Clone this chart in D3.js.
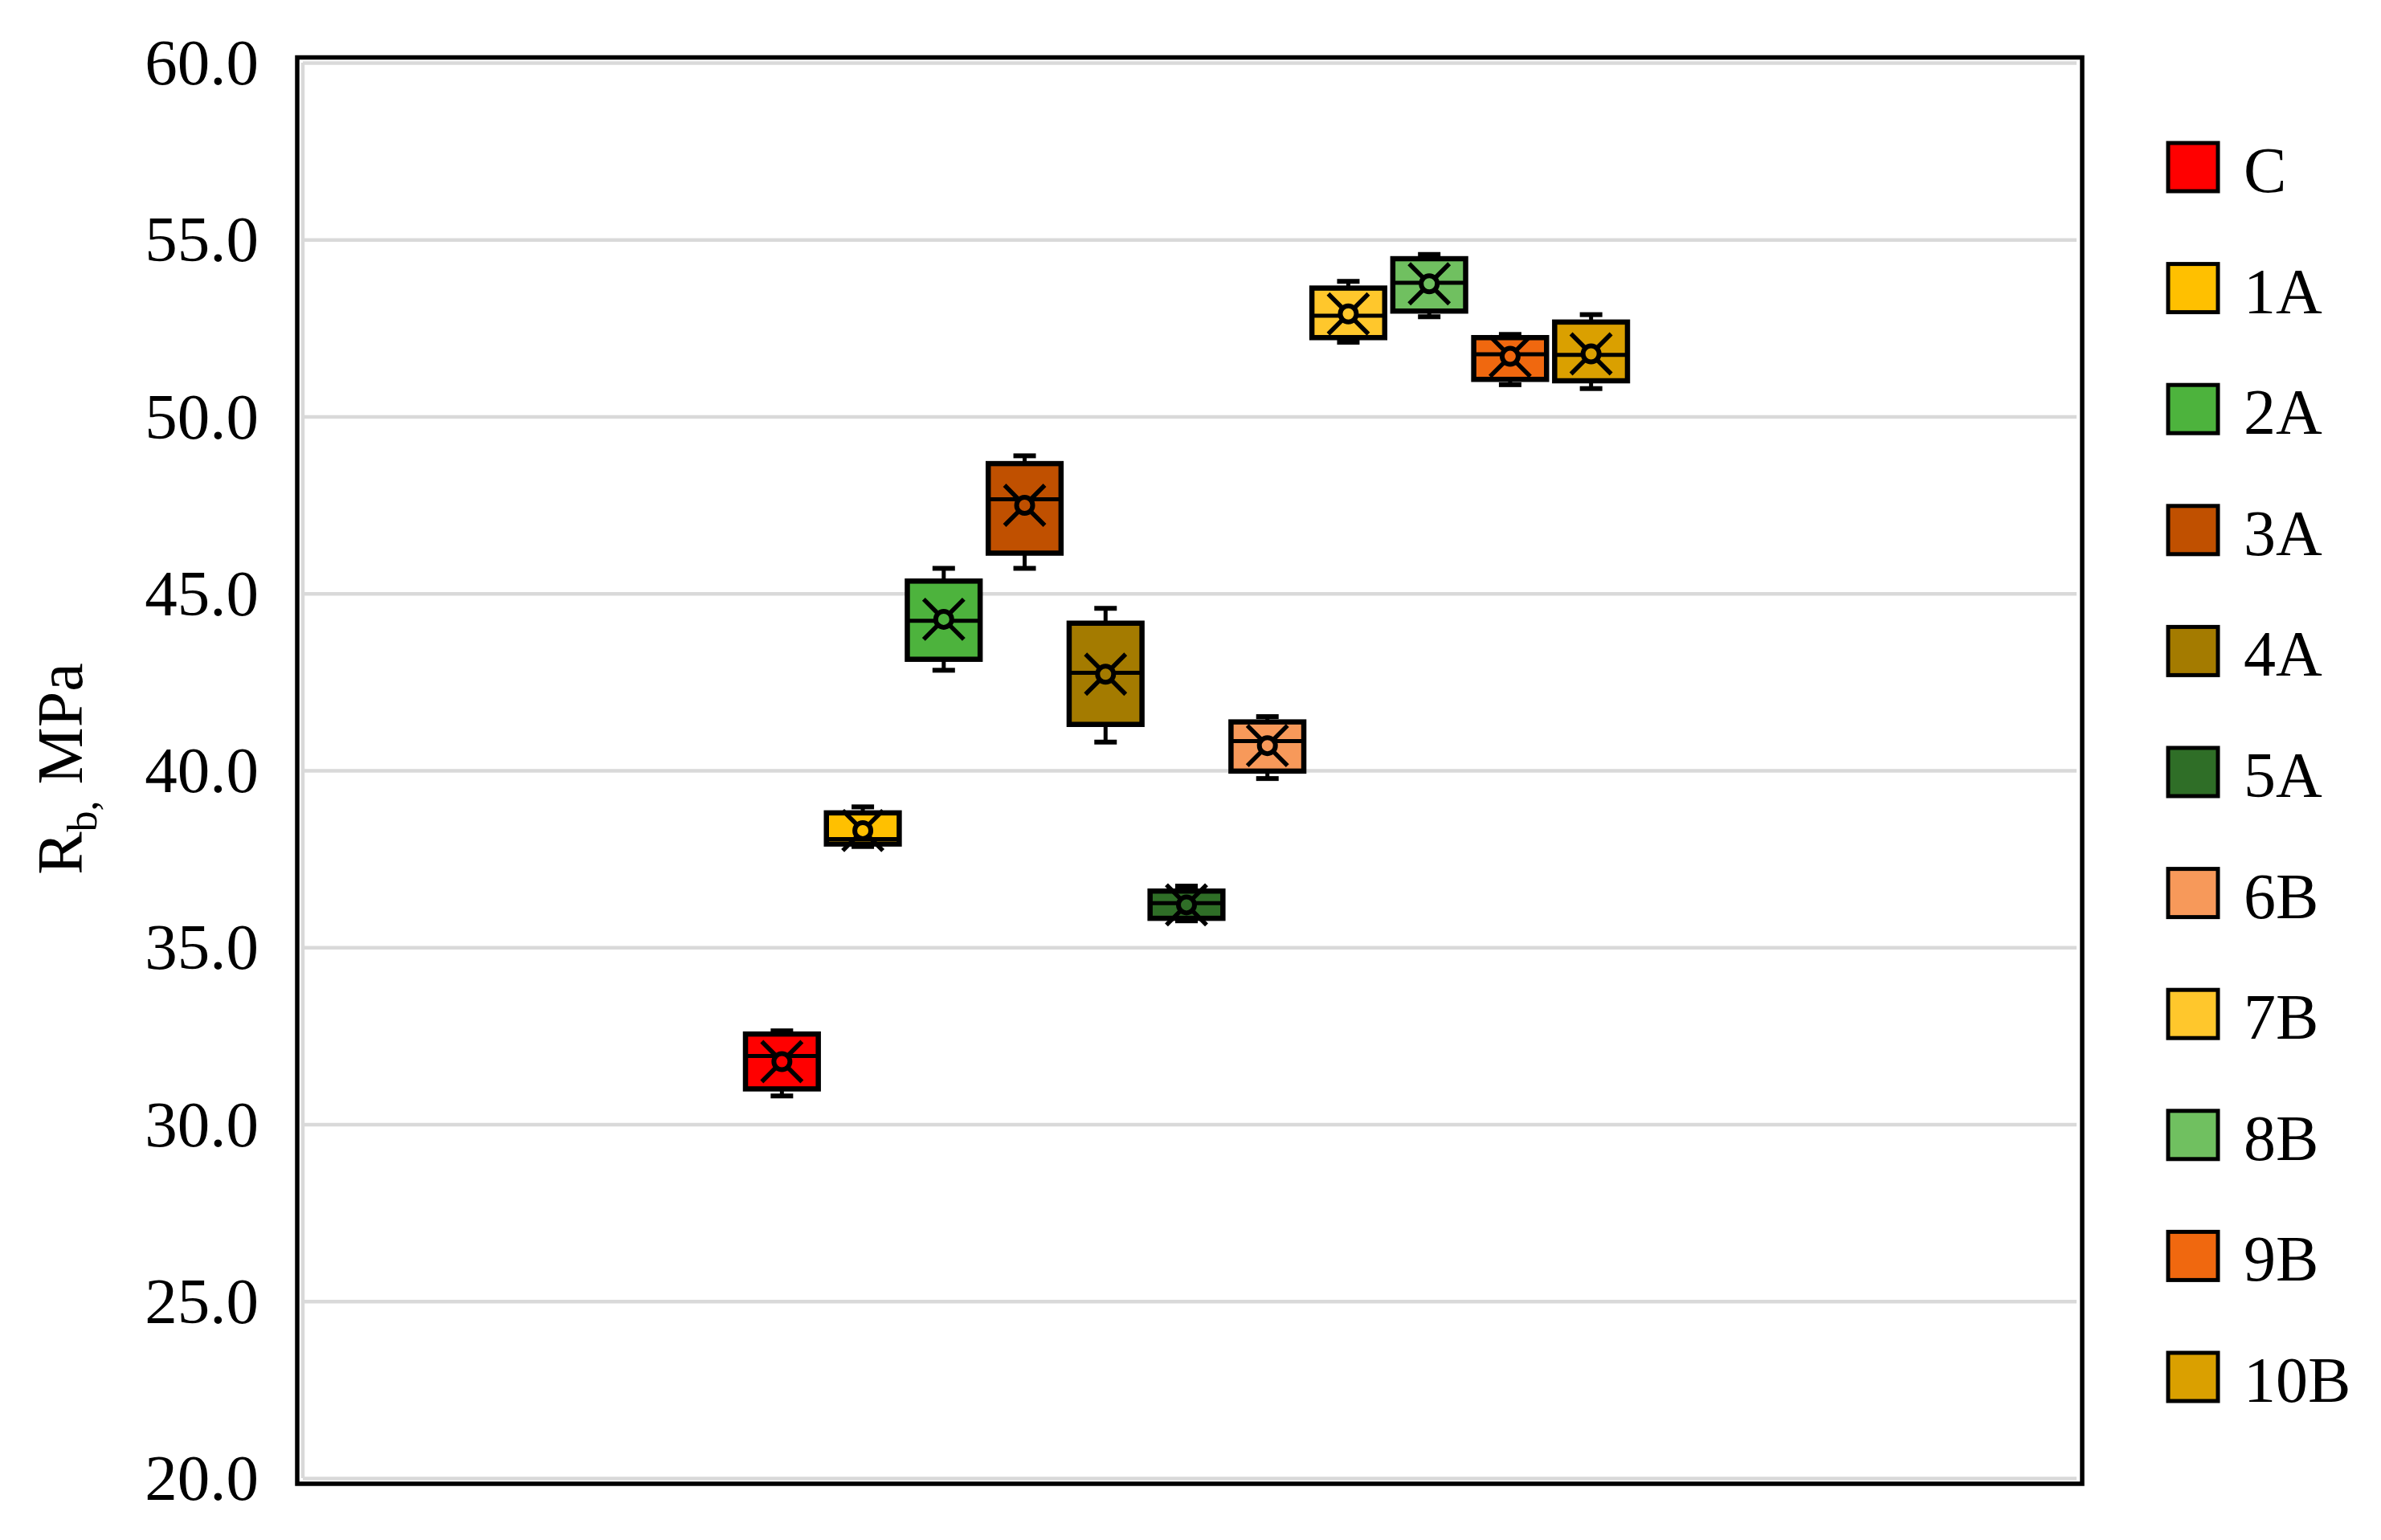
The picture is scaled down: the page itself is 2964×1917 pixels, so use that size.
<!DOCTYPE html>
<html>
<head>
<meta charset="utf-8">
<script src="https://cdn.jsdelivr.net/npm/d3@7"></script>
<style>
  body { margin: 0; background: #fff; }
  text { font-family: "Liberation Serif", "Times New Roman", serif; fill: #000; }
</style>
</head>
<body>
<svg id="chart" width="2964" height="1917"></svg>
<script>
// box plot summary per mix (MPa)
const series = ["C", "1A", "2A", "3A", "4A", "5A", "6B", "7B", "8B", "9B", "10B"];
const colors = ["#ff0000", "#ffc000", "#4db33d", "#c05000", "#a47b00", "#2f6e27",
                "#f7995a", "#ffc72c", "#70c060", "#f0680f", "#daa000"];
const whiskerLow  = [30.80, 37.85, 42.83, 45.71, 40.80, 35.75, 39.77, 52.10, 52.82, 50.90, 50.79];
const q1          = [31.00, 37.92, 43.14, 46.14, 41.30, 35.82, 39.98, 52.23, 52.98, 51.05, 51.01];
const median      = [31.93, 38.06, 44.23, 47.66, 42.76, 36.25, 40.83, 52.85, 53.78, 51.76, 51.74];
const q3          = [32.55, 38.80, 45.35, 48.67, 44.16, 36.59, 41.37, 53.63, 54.46, 52.23, 52.67];
const whiskerHigh = [32.64, 38.97, 45.71, 48.89, 44.58, 36.73, 41.52, 53.82, 54.58, 52.32, 52.88];
const mean        = [31.77, 38.30, 44.27, 47.49, 42.72, 36.20, 40.70, 52.90, 53.75, 51.70, 51.77];
const yTicks = [20, 25, 30, 35, 40, 45, 50, 55, 60];

const svg = d3.select("#chart");
const plot = { left: 377, right: 2585, top: 78, bottom: 1840 };

const y = d3.scaleLinear().domain([20, 60]).range([plot.bottom, plot.top]);
const xGroup = d3.scaleBand().domain(["all"]).range([plot.left, plot.right]).paddingOuter(0.5).paddingInner(0);
const x = d3.scaleBand().domain(series)
  .range([xGroup("all") - 4, xGroup("all") - 4 + xGroup.bandwidth()])
  .paddingInner(0.1).paddingOuter(0.03);

// outer frame
svg.append("rect")
  .attr("x", 370).attr("y", 71.5)
  .attr("width", 2222).attr("height", 1775.5)
  .attr("fill", "none").attr("stroke", "#000").attr("stroke-width", 5.5);

// gridlines
svg.append("g")
  .attr("transform", `translate(${plot.left},0)`)
  .call(d3.axisLeft(y).tickValues(yTicks).tickSize(-(plot.right - plot.left)).tickFormat(""))
  .call(g => g.select(".domain").remove())
  .call(g => g.selectAll("line").attr("stroke", "#d9d9d9").attr("stroke-width", 4.5));

svg.append("line")
  .attr("x1", plot.left).attr("x2", plot.left)
  .attr("y1", plot.top).attr("y2", plot.bottom)
  .attr("stroke", "#d9d9d9").attr("stroke-width", 4.5);

// tick labels
svg.append("g")
  .attr("transform", `translate(${plot.left},0)`)
  .call(d3.axisLeft(y).tickValues(yTicks).tickSize(0).tickPadding(55).tickFormat(d3.format(".1f")))
  .call(g => g.select(".domain").remove())
  .call(g => g.selectAll("text")
    .attr("font-size", 81)
    .attr("font-family", "Liberation Serif")
    .attr("fill", "#000")
    .attr("dy", "0.33em"));

// y axis title
const title = svg.append("text")
  .attr("transform", "translate(102,957) rotate(-90)")
  .attr("text-anchor", "middle")
  .attr("font-size", 80);
title.append("tspan").text("R");
title.append("tspan").attr("font-size", 52).attr("dy", 18).text("b,");
title.append("tspan").attr("dy", -18).text(" MPa");

// boxes
const boxW = x.bandwidth();
const boxes = svg.append("g").selectAll("g")
  .data(series)
  .join("g")
  .attr("transform", d => `translate(${x(d) + boxW / 2},0)`);

boxes.append("line")
  .attr("x1", 0).attr("x2", 0)
  .attr("y1", (d, i) => y(q3[i])).attr("y2", (d, i) => y(whiskerHigh[i]))
  .attr("stroke", "#000").attr("stroke-width", 5);
boxes.append("line")
  .attr("x1", 0).attr("x2", 0)
  .attr("y1", (d, i) => y(q1[i])).attr("y2", (d, i) => y(whiskerLow[i]))
  .attr("stroke", "#000").attr("stroke-width", 5);
boxes.append("line")
  .attr("x1", -14).attr("x2", 14)
  .attr("y1", (d, i) => y(whiskerHigh[i])).attr("y2", (d, i) => y(whiskerHigh[i]))
  .attr("stroke", "#000").attr("stroke-width", 6);
boxes.append("line")
  .attr("x1", -14).attr("x2", 14)
  .attr("y1", (d, i) => y(whiskerLow[i])).attr("y2", (d, i) => y(whiskerLow[i]))
  .attr("stroke", "#000").attr("stroke-width", 6);

boxes.append("rect")
  .attr("x", -boxW / 2)
  .attr("y", (d, i) => y(q3[i]))
  .attr("width", boxW)
  .attr("height", (d, i) => y(q1[i]) - y(q3[i]))
  .attr("fill", (d, i) => colors[i])
  .attr("stroke", "#000").attr("stroke-width", 6.5);

boxes.append("line")
  .attr("x1", -boxW / 2).attr("x2", boxW / 2)
  .attr("y1", (d, i) => y(median[i])).attr("y2", (d, i) => y(median[i]))
  .attr("stroke", "#000").attr("stroke-width", 5);

// mean marker (x) and inner point
const m = 25;
boxes.append("path")
  .attr("d", (d, i) => {
    const cy = y(mean[i]);
    return `M${-m},${cy - m}L${m},${cy + m}M${m},${cy - m}L${-m},${cy + m}`;
  })
  .attr("stroke", "#000").attr("stroke-width", 5.5).attr("fill", "none");
boxes.append("circle")
  .attr("cx", 0).attr("cy", (d, i) => y(mean[i]))
  .attr("r", 10)
  .attr("fill", (d, i) => colors[i])
  .attr("stroke", "#000").attr("stroke-width", 6);

// legend
const ly = d3.scalePoint().domain(series).range([208, 1714]);
const legend = svg.append("g").selectAll("g")
  .data(series)
  .join("g")
  .attr("transform", d => `translate(2697,${ly(d)})`);
legend.append("rect")
  .attr("x", 2).attr("y", -30)
  .attr("width", 62).attr("height", 60)
  .attr("fill", (d, i) => colors[i])
  .attr("stroke", "#000").attr("stroke-width", 5);
legend.append("text")
  .attr("x", 96).attr("y", 31)
  .attr("font-size", 80)
  .text(d => d);
</script>
</body>
</html>
